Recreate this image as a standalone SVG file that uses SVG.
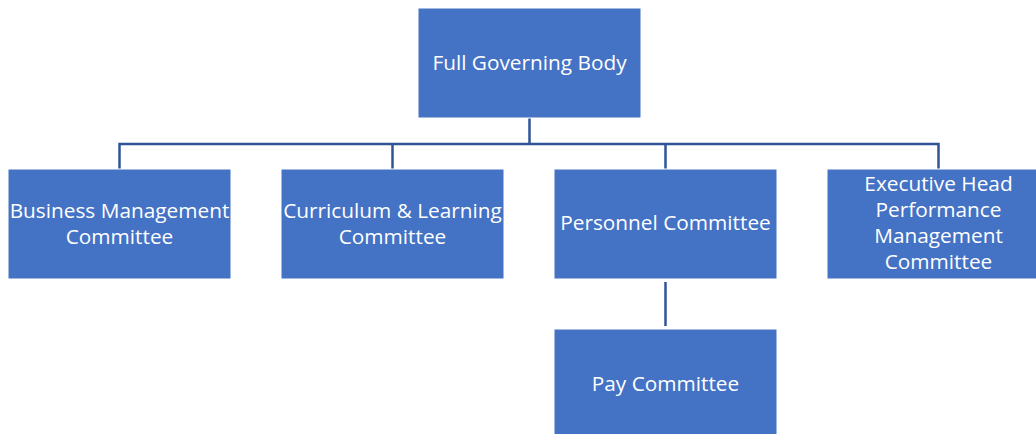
<svg xmlns="http://www.w3.org/2000/svg" width="1036" height="434" viewBox="0 0 1036 434">
<style>
.box{fill:#4472C4;stroke:#FFFFFF;stroke-width:1}
.lbl{font-family:"Open Sans","Liberation Sans",sans-serif;font-size:20.8px;fill:#FFFFFF;text-anchor:middle}
.conn{fill:none;stroke:#2F5597;stroke-width:2.5}
</style>
<rect width="1036" height="434" fill="#FFFFFF"/>
<g id="connectors">
<path class="conn" d="M529.5,118 V144"/>
<path class="conn" d="M119.5,169 V144 H938.5 V169"/>
<path class="conn" d="M392.5,144 V169"/>
<path class="conn" d="M665.5,144 V169"/>
<path class="conn" d="M665.5,282 V326"/>
</g>
<g id="full-governing-body">
<rect class="box" x="418" y="8" width="223" height="110"/>
<text class="lbl" x="529.5" y="70">Full Governing Body</text>
</g>
<g id="business-management">
<rect class="box" x="8" y="169" width="223" height="110"/>
<text class="lbl" x="119.5" y="218">Business Management</text>
<text class="lbl" x="119.5" y="244">Committee</text>
</g>
<g id="curriculum-learning">
<rect class="box" x="281" y="169" width="223" height="110"/>
<text class="lbl" x="392.5" y="218">Curriculum &amp; Learning</text>
<text class="lbl" x="392.5" y="244">Committee</text>
</g>
<g id="personnel">
<rect class="box" x="554" y="169" width="223" height="110"/>
<text class="lbl" x="665.5" y="230">Personnel Committee</text>
</g>
<g id="executive-head">
<rect class="box" x="827" y="169" width="223" height="110"/>
<text class="lbl" x="938.5" y="191">Executive Head</text>
<text class="lbl" x="938.5" y="217">Performance</text>
<text class="lbl" x="938.5" y="243">Management</text>
<text class="lbl" x="938.5" y="269">Committee</text>
</g>
<g id="pay">
<rect class="box" x="554" y="329" width="223" height="110"/>
<text class="lbl" x="665.5" y="391">Pay Committee</text>
</g>
</svg>
